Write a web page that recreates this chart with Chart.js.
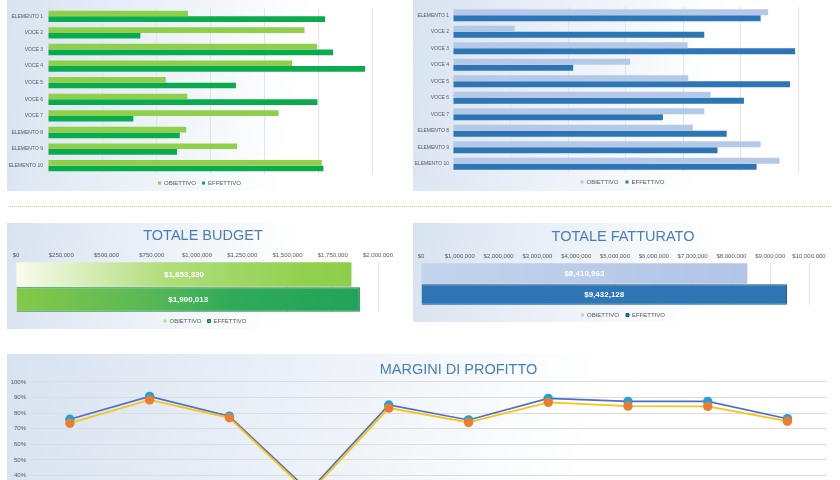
<!DOCTYPE html>
<html>
<head>
<meta charset="utf-8">
<script src="https://cdn.jsdelivr.net/npm/chart.js@4.4.1/dist/chart.umd.min.js"></script>
<style>
  html, body { margin: 0; padding: 0; background: #fff; width: 840px; height: 480px; overflow: hidden; position: relative; }
  .panel { position: absolute; background: linear-gradient(100deg, #d8e3f1 0%, #ebf1f8 35%, #ffffff 70%); }
  .sep { position: absolute; left: 8px; width: 823px; height: 0; border-top: 1px dotted #c6d27a; }
  canvas { position: absolute; }
</style>
</head>
<body>
<div class="panel" style="left:7px;top:-10px;width:406px;height:201px"></div>
<div class="panel" style="left:413px;top:-10px;width:420px;height:201px"></div>
<div class="sep" style="top:206px"></div>
<div class="panel" style="left:7px;top:223px;width:406px;height:106px"></div>
<div class="panel" style="left:413px;top:223px;width:420px;height:99px"></div>
<div class="panel" style="left:7px;top:354px;width:826px;height:140px"></div>

<canvas id="chartBudgetVoci" width="406" height="196" style="left:7px;top:0px"></canvas>
<canvas id="chartFatturatoVoci" width="419" height="195" style="left:413px;top:0px"></canvas>
<canvas id="chartTotaleBudget" width="406" height="112" style="left:7px;top:222px"></canvas>
<canvas id="chartTotaleFatturato" width="419" height="106" style="left:413px;top:222px"></canvas>
<canvas id="chartMargini" width="825" height="219" style="left:7px;top:354px"></canvas>

<script>
// categorie e serie
const categories = ["ELEMENTO 1", "VOCE 2", "VOCE 3", "VOCE 4", "VOCE 5", "VOCE 6", "VOCE 7", "ELEMENTO 8", "ELEMENTO 9", "ELEMENTO 10"];
const seriesNames = ["OBIETTIVO", "EFFETTIVO"];

const budgetObiettivo = [129500, 237500, 249000, 226000, 109000, 129000, 213500, 128000, 175000, 253500];
const budgetEffettivo = [256500, 85500, 264000, 293500, 174000, 249500, 79000, 122000, 119500, 255000];

const fatturatoObiettivo = [1096000, 214000, 816000, 616000, 818000, 896000, 874000, 834000, 1070000, 1136000];
const fatturatoEffettivo = [1070000, 874000, 1190000, 418000, 1172000, 1012000, 730000, 952000, 920000, 1056000];

const totaleBudget = [1853330, 1900013];
const totaleFatturato = [8410963, 9432128];

const marginiObiettivo = [76, 90.7, 78, 30, 85.2, 75.6, 89.4, 87.5, 87.5, 76.4];
const marginiEffettivo = [73.5, 88.5, 77, 28.5, 83.2, 74, 86.9, 84.5, 84.3, 74.8];

const budgetTicks = [0, 250000, 500000, 750000, 1000000, 1250000, 1500000, 1750000, 2000000];
const fatturatoTicks = [0, 1000000, 2000000, 3000000, 4000000, 5000000, 6000000, 7000000, 8000000, 9000000, 10000000];
const marginiTicks = [0, 10, 20, 30, 40, 50, 60, 70, 80, 90, 100];

Chart.defaults.font.family = '"Liberation Sans", Arial, sans-serif';
Chart.defaults.color = "#595959";

const titleFont = '"Liberation Sans", Arial, sans-serif';
const formatDollar = (v) => "$" + Number(v).toLocaleString("en-US");

// sposta titolo / legenda in orizzontale (come nel foglio originale)
const shiftBoxes = {
  id: "shiftBoxes",
  afterLayout(chart, args, opts) {
    if (opts.title && chart.titleBlock) {
      chart.titleBlock.left += opts.title;
      chart.titleBlock.right += opts.title;
    }
    if (opts.legend && chart.legend) {
      chart.legend.left += opts.legend;
      chart.legend.right += opts.legend;
    }
  },
};

// etichette bianche al centro delle barre dei totali
const barValueLabels = {
  id: "barValueLabels",
  afterDatasetsDraw(chart) {
    const ctx = chart.ctx;
    ctx.save();
    ctx.font = 'bold 8px "Liberation Sans", Arial, sans-serif';
    ctx.fillStyle = "#ffffff";
    ctx.textAlign = "center";
    ctx.textBaseline = "middle";
    chart.data.datasets.forEach((ds, i) => {
      chart.getDatasetMeta(i).data.forEach((bar, j) => {
        ctx.fillText(formatDollar(ds.data[j]), (bar.x + bar.base) / 2, bar.y);
      });
    });
    ctx.restore();
  },
};

const legendOpts = (pad) => ({
  position: "bottom",
  labels: { font: { size: 6 }, boxWidth: 3, boxHeight: 3, usePointStyle: true, pointStyle: "rect", padding: pad },
});

const hGradient = (stops, fallback) => (c) => {
  const area = c.chart.chartArea;
  if (!area) return fallback;
  const g = c.chart.ctx.createLinearGradient(area.left, 0, area.right, 0);
  stops.forEach((s) => g.addColorStop(s[0], s[1]));
  return g;
};

const vociChart = (id, obj, eff, colors, max, step, o) => {
  new Chart(document.getElementById(id), {
    type: "bar",
    data: {
      labels: categories,
      datasets: [
        { label: seriesNames[0], data: obj, backgroundColor: colors[0], categoryPercentage: o.cat, barPercentage: 1 },
        { label: seriesNames[1], data: eff, backgroundColor: colors[1], categoryPercentage: o.cat, barPercentage: 1 },
      ],
    },
    options: {
      indexAxis: "y",
      responsive: false,
      animation: false,
      layout: { padding: { top: o.top, right: o.right, bottom: 0, left: 0 } },
      scales: {
        x: {
          position: "top",
          min: 0,
          max: max,
          ticks: { display: false, stepSize: step },
          grid: { color: "#e4e4e4", drawTicks: false },
          border: { display: false },
        },
        y: {
          ticks: { font: { size: 5 }, padding: o.tickPad },
          grid: { display: false, drawTicks: false },
          border: { display: false },
          afterFit: (s) => { s.width = o.yWidth; },
        },
      },
      plugins: {
        legend: legendOpts(o.legendPad),
        tooltip: { enabled: false },
        shiftBoxes: { legend: o.legendShift },
      },
    },
    plugins: [shiftBoxes],
  });
};

vociChart("chartBudgetVoci", budgetObiettivo, budgetEffettivo, ["#8fcf4b", "#0aab4e"], 300000, 50000,
  { cat: 0.68, top: 3, right: 41, yWidth: 41, tickPad: 5, legendPad: 6, legendShift: 10 });
vociChart("chartFatturatoVoci", fatturatoObiettivo, fatturatoEffettivo, ["#b4c8e8", "#2e75b6"], 1200000, 200000,
  { cat: 0.72, top: 5, right: 34, yWidth: 40, tickPad: 4, legendPad: 7, legendShift: 17 });

const totaleChart = (id, title, values, ticks, colors, borders, o) => {
  new Chart(document.getElementById(id), {
    type: "bar",
    data: {
      labels: [title],
      datasets: [
        { label: seriesNames[0], data: [values[0]], backgroundColor: colors[0], borderColor: borders[0], borderWidth: o.border[0], categoryPercentage: 1, barPercentage: 0.98 },
        { label: seriesNames[1], data: [values[1]], backgroundColor: colors[1], borderColor: borders[1], borderWidth: o.border[1], categoryPercentage: 1, barPercentage: 0.98 },
      ],
    },
    options: {
      indexAxis: "y",
      responsive: false,
      animation: false,
      layout: { padding: { top: 0, right: o.right, bottom: 0, left: o.left } },
      scales: {
        x: {
          position: "top",
          min: ticks[0],
          max: ticks[ticks.length - 1],
          ticks: { stepSize: ticks[1] - ticks[0], font: { size: 6 }, padding: 3, maxRotation: 0, autoSkip: false, callback: (v) => formatDollar(v) },
          grid: { color: "#e4e4e4", drawTicks: false },
          border: { display: false },
        },
        y: { display: false },
      },
      plugins: {
        title: {
          display: true,
          text: title,
          color: "#4a7dbb",
          font: { family: titleFont, size: 14.5, weight: "normal" },
          padding: { top: o.titleTop, bottom: o.titleBottom },
        },
        legend: legendOpts(o.legendPad),
        tooltip: { enabled: false },
        shiftBoxes: { title: o.titleShift, legend: o.legendShift },
      },
    },
    plugins: [shiftBoxes, barValueLabels],
  });
};

totaleChart("chartTotaleBudget", "TOTALE BUDGET", totaleBudget, budgetTicks,
  [
    hGradient([[0, "#fafcef"], [0.4, "#b2de7e"], [0.8, "#92d050"], [1, "#8ccd49"]], "#92d050"),
    hGradient([[0, "#84ca49"], [0.35, "#5ab955"], [0.6, "#2faa5a"], [1, "#1fa259"]], "#1fa259"),
  ],
  ["#8ccd49", "#1a8145"],
  { border: [0, 1], left: 9, right: 35, titleTop: 5, titleBottom: 4.5, legendPad: 6, titleShift: 6, legendShift: 8 });

totaleChart("chartTotaleFatturato", "TOTALE FATTURATO", totaleFatturato, fatturatoTicks,
  [
    hGradient([[0, "#c4d3ec"], [1, "#adc2e5"]], "#b4c7e7"),
    "#2e75b6",
  ],
  ["#adc2e5", "#1f4e79"],
  { border: [0, 1], left: 8, right: 23, titleTop: 6.5, titleBottom: 4, legendPad: 7, titleShift: 8, legendShift: 8 });

new Chart(document.getElementById("chartMargini"), {
  type: "line",
  data: {
    labels: categories,
    datasets: [
      {
        label: seriesNames[0],
        data: marginiObiettivo,
        borderColor: "#4d6fc3",
        borderWidth: 1.6,
        pointBackgroundColor: "#1fa2dc",
        pointBorderWidth: 0,
        pointRadius: 4.7,
        tension: 0,
        order: 2,
      },
      {
        label: seriesNames[1],
        data: marginiEffettivo,
        borderColor: "#f7c416",
        borderWidth: 1.8,
        pointBackgroundColor: "#ec7c30",
        pointBorderWidth: 0,
        pointRadius: 4.7,
        tension: 0,
        order: 1,
      },
    ],
  },
  options: {
    responsive: false,
    animation: false,
    layout: { padding: 0 },
    scales: {
      x: {
        offset: true,
        ticks: { font: { size: 6 } },
        grid: { display: false, drawTicks: false, offset: true },
        border: { display: false },
      },
      y: {
        min: marginiTicks[0],
        max: marginiTicks[marginiTicks.length - 1],
        ticks: { stepSize: marginiTicks[1] - marginiTicks[0], font: { size: 6 }, padding: 4, callback: (v) => v + "%" },
        grid: { color: "#dcdcdc", drawTicks: false },
        border: { display: false },
        afterFit: (s) => { s.width = 23; },
      },
    },
    plugins: {
      title: {
        display: true,
        text: "MARGINI DI PROFITTO",
        color: "#4a7dbb",
        font: { family: titleFont, size: 14.5, weight: "normal" },
        padding: { top: 7, bottom: 3.5 },
      },
      legend: legendOpts(6),
      tooltip: { enabled: false },
      shiftBoxes: { title: 39 },
    },
  },
  plugins: [shiftBoxes],
});
</script>
</body>
</html>
